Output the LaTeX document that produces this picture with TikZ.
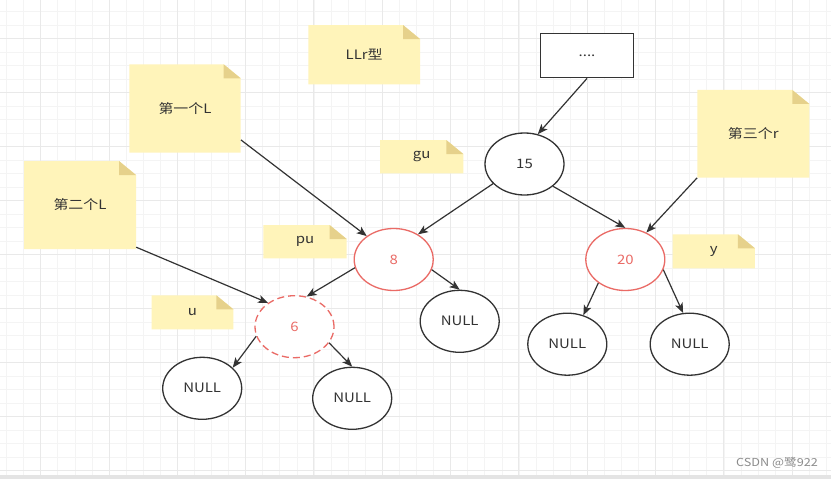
\documentclass[tikz,border=0pt]{standalone}
\usepackage{fontspec}
\setmainfont[FakeStretch=1.15]{Noto Sans CJK SC}
\usepackage{xcolor}
\usepackage{tikz}
\usetikzlibrary{shapes.geometric,arrows.meta,positioning}

\definecolor{inkgray}{HTML}{333333}
\definecolor{treered}{HTML}{EA6B66}
\definecolor{notefill}{HTML}{FFF4BA}
\definecolor{notefold}{HTML}{E6D18B}
\definecolor{gridminor}{HTML}{F4F4F4}
\definecolor{gridmajor}{HTML}{E9E9E9}
\definecolor{bandgray}{HTML}{E4E4E4}

\tikzset{
  treenode/.style={ellipse, draw=inkgray, line width=1.3pt, fill=white,
    minimum width=79pt, minimum height=62pt, inner sep=0pt, text=inkgray},
  rednode/.style={treenode, draw=treered, text=treered},
  stickynote/.style={rectangle, inner sep=0pt, text=inkgray,
    path picture={
      \fill[notefill] (path picture bounding box.south west)
        |- ([xshift=-17pt]path picture bounding box.north east)
        -- ([yshift=-14pt]path picture bounding box.north east)
        |- cycle;
      \fill[notefold] ([xshift=-17pt]path picture bounding box.north east)
        -- ([xshift=-17pt,yshift=-14pt]path picture bounding box.north east)
        -- ([yshift=-14pt]path picture bounding box.north east) -- cycle;
    }},
  link/.style={draw=inkgray, line width=1.2pt,
    -{Stealth[length=10pt,width=8pt,inset=2.5pt]}},
}

\begin{document}
\begin{tikzpicture}[x=1pt, y=-1pt, font=\fontsize{13}{15}\selectfont]
\useasboundingbox (0,0) rectangle (831,479);
\fill[white] (0,0) rectangle (831,479);
% grid paper
\foreach \k in {0,...,48}
    \draw[gridminor, line width=1pt] ({6.7+17.08*\k},0) -- ({6.7+17.08*\k},475);
\foreach \k in {0,...,34}
    \draw[gridminor, line width=1pt] (0,{11.7+13.5*\k}) -- (831,{11.7+13.5*\k});
\foreach \k in {0,...,11}
    \draw[gridmajor, line width=1pt] ({40.7+68.3*\k},0) -- ({40.7+68.3*\k},475);
\foreach \k in {0,...,8}
    \draw[gridmajor, line width=1pt] (0,{38.3+54*\k}) -- (831,{38.3+54*\k});
\fill[bandgray] (0,475) rectangle (831,479);

% sticky notes
\node[stickynote, minimum width=111.7pt, minimum height=59.3pt] (noteLLr) at (364.2,54.7) {LLr型};
\node[stickynote, minimum width=111.4pt, minimum height=88.4pt] (noteFirstL) at (185,108.5) {第一个L};
\node[stickynote, minimum width=112pt, minimum height=88pt] (noteSecondL) at (80,205) {第二个L};
\node[stickynote, minimum width=112pt, minimum height=87.7pt] (noteThirdR) at (753.3,133.8) {第三个r};
\node[stickynote, minimum width=83.3pt, minimum height=33.3pt] (noteGu) at (421.7,156.7) {gu};
\node[stickynote, minimum width=83.4pt, minimum height=33.3pt] (notePu) at (305,241.7) {pu};
\node[stickynote, minimum width=81.7pt, minimum height=34pt] (noteU) at (192.5,312.3) {u};
\node[stickynote, minimum width=82.3pt, minimum height=34pt] (noteY) at (713.8,251.3) {y};

% tree
\node[draw=inkgray, line width=1.5pt, fill=white, text=inkgray, inner sep=0pt,
      minimum width=92.6pt, minimum height=44.4pt] (dots) at (587,55.5) {....};
\node[treenode] (n15) at (524.5,164) {15};
\node[rednode] (n8) at (393.7,259.5) {8};
\node[rednode] (n20) at (625.3,259.5) {20};
\node[rednode, dash pattern=on 7pt off 4pt] (n6) at (294.5,326.7) {6};
\node[treenode] (null8) at (459.7,321.3) {NULL};
\node[treenode] (null6l) at (202.2,388.3) {NULL};
\node[treenode] (null6r) at (352.2,398.3) {NULL};
\node[treenode] (null20l) at (567.3,344.2) {NULL};
\node[treenode] (null20r) at (689.7,344.2) {NULL};

% links
\draw[link] (dots.south) -- (n15.66);
\draw[link] (n15.212) -- (n8.46);
\draw[link] (n15.322) -- (n20.north);
\draw[link] ([yshift=13pt]noteFirstL.south east) -- (n8.139);
\draw[link] (noteThirdR.south west) -- (n20.52);
\draw[link] ([yshift=2pt]noteSecondL.south east) -- (n6.138);
\draw[link] (n8.192) -- (n6.68);
\draw[link] (n8.345) -- (null8.north);
\draw[link] (n6.194) -- (null6l.34);
\draw[link] (n6.335) -- (null6r.north);
\draw[link] (n20.221) -- (null20l.61);
\draw[link] (n20.345) -- (null20r.102);

% watermark
\node[text=black!45, font=\fontsize{11}{13}\selectfont] (mark) at (777,463) {CSDN @鹭922};
\end{tikzpicture}
\end{document}
